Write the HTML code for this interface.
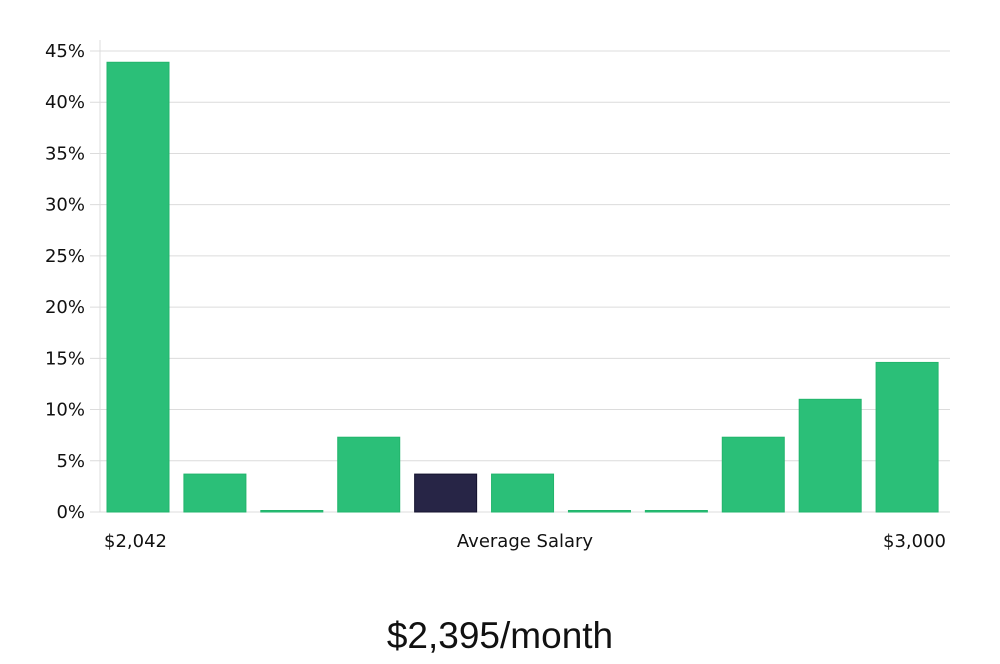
<!DOCTYPE html>
<html><head><meta charset="utf-8"><style>
body{margin:0;background:#fff;width:1000px;height:660px;overflow:hidden;font-family:"DejaVu Sans","Liberation Sans",sans-serif}
</style></head><body>
<svg id="chart" width="1000" height="660" xmlns="http://www.w3.org/2000/svg">
<g id="grid"></g><g id="bars"></g><g id="axes"></g>
<text x="104" y="547" font-size="18" fill="#111" font-family="DejaVu Sans, sans-serif">$2,042</text>
<text x="525" y="547" font-size="18" fill="#111" text-anchor="middle" font-family="DejaVu Sans, sans-serif">Average Salary</text>
<text x="946" y="547" font-size="18" fill="#111" text-anchor="end" font-family="DejaVu Sans, sans-serif">$3,000</text>
<text x="500" y="648" font-size="37" fill="#111" text-anchor="middle" font-family="Liberation Sans, sans-serif" font-weight="300">$2,395/month</text>
</svg>
<script>
const values=[43.9,3.7,0,7.3,3.7,3.7,0,0,7.3,11.0,14.6];
const highlight=[false,false,false,false,true,false,false,false,false,false,false];
const yTicks=[0,5,10,15,20,25,30,35,40,45];
const yTickLabels=["0%","5%","10%","15%","20%","25%","30%","35%","40%","45%"];
const NS="http://www.w3.org/2000/svg";
const x0=100,x1=950,yBase=512,yTop=51,yMax=45;
const y=v=>yBase-(v/yMax)*(yBase-yTop);
const step=(x1-x0-4)/values.length;
const bx=i=>x0+7+i*step;
function mk(t,a,p){const e=document.createElementNS(NS,t);for(const k in a)e.setAttribute(k,a[k]);p.appendChild(e);return e;}
const grid=document.getElementById('grid'),bars=document.getElementById('bars'),axes=document.getElementById('axes');
yTicks.forEach((t,i)=>{
 const g=mk('line',{x1:90,x2:x1,y1:y(t),y2:y(t),stroke:'#dcdcdc','stroke-width':1},grid);
 
 
 const l=mk('text',{x:85,y:y(t)+6,'font-size':18,fill:'#111','text-anchor':'end'},axes);
 l.textContent=yTickLabels[i];
 
 
});
const ax=mk('line',{x1:x0,x2:x0,y1:40,y2:yBase,stroke:'#dcdcdc','stroke-width':1},axes);


values.forEach((v,i)=>{
 const top=Math.min(y(v),yBase-1.5);
 const c=highlight[i]?'#272546':'#2bbf78';
 const r=mk('rect',{x:bx(i),y:top,width:62,height:yBase-top,fill:c,stroke:highlight[i]?'#14122e':'#22b56c','stroke-width':1},bars);
 
 
});
</script>
</body></html>
